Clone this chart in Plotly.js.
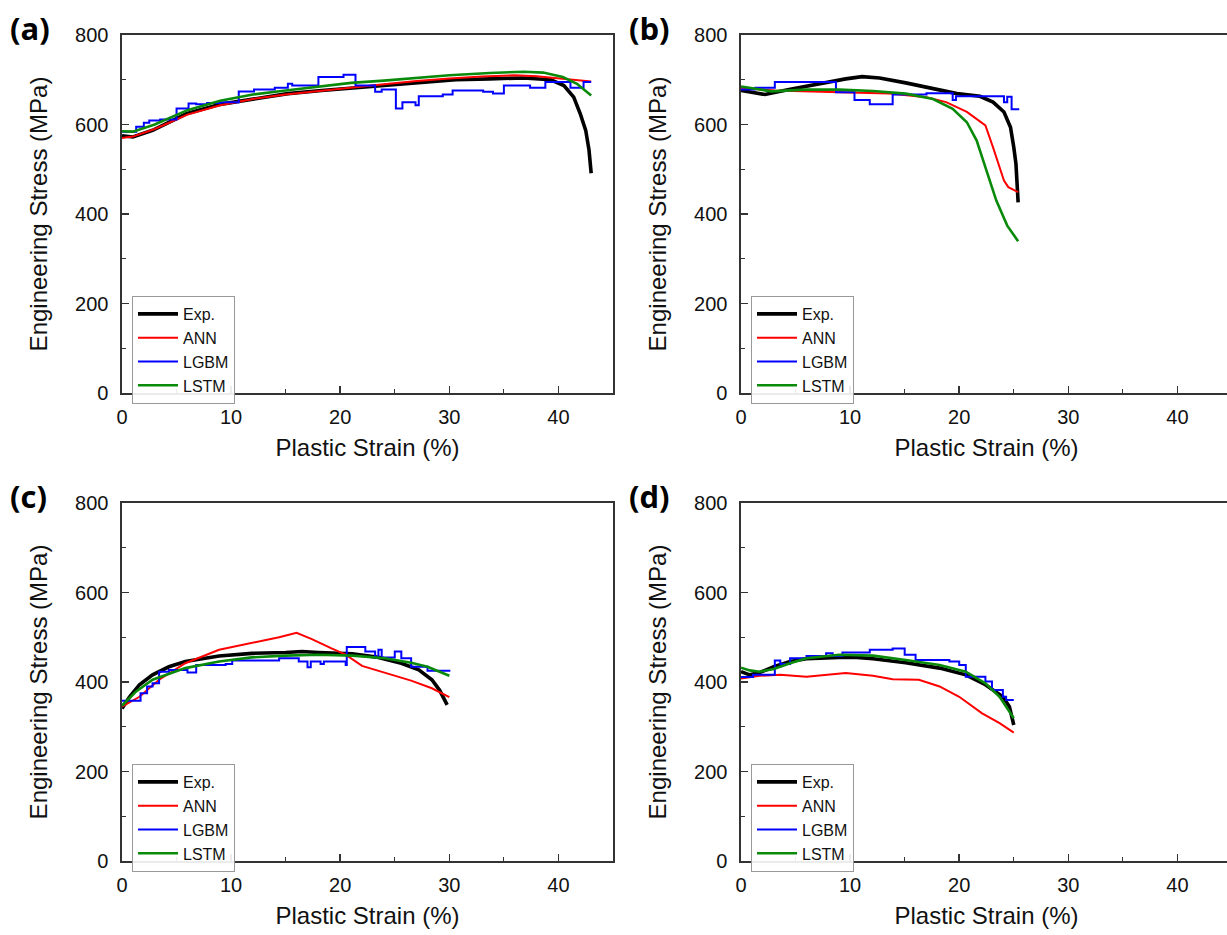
<!DOCTYPE html>
<html>
<head>
<meta charset="utf-8">
<script src="https://cdn.plot.ly/plotly-3.0.1.min.js"></script>
<style>
html,body{margin:0;padding:0;overflow:hidden;background:#fff;}
#chart{width:1240px;height:935px;}
</style>
</head>
<body>
<div id="chart"></div>
<script>
// ---------- data (Plastic strain %, Engineering stress MPa) ----------
const seriesNames = ['Exp.', 'ANN', 'LGBM', 'LSTM'];
const panelLabels = ['(a)', '(b)', '(c)', '(d)'];
const xTickVals = [0, 10, 20, 30, 40];
const yTickVals = [0, 200, 400, 600, 800];

// (a)
const aExpX = [0,1,2.8,5.9,9,12.1,15.2,18.3,21.4,24.4,27.5,30.6,33.7,36.8,39.3,40.5,41.4,42,42.5,42.8,43];
const aExpY = [575,572,587,624,645,658,669,676,682,689,695,700,702,704,700,687,661,624,587,543,491];
const aAnnX = [0,1,3,6,9,12,15,18,21,24,27,30,33,36,38,40,42,43];
const aAnnY = [570,573,590,622,643,657,667,675,683,690,697,703,707,710,708,703,698,696];
const aLgbmX = [0,1.3,2.0,2.5,3.5,5.0,6.1,6.8,7.8,9.0,10.7,12.1,14.0,15.2,15.6,18.0,20.3,21.4,23.2,23.8,25.1,25.7,26.9,27.2,29.4,30.3,33.1,34.0,35.0,37.4,38.8,41.1,42.3,43.0];
const aLgbmY = [584,595,604,609,611,636,647,645,648,650,674,678,682,691,687,706,711,687,673,678,636,650,643,663,667,676,673,669,687,682,695,682,695,695];
const aLstmX = [0,1,3,6,9,12,15,18,21,24,27,30,33.7,36.8,38.6,40.4,41.7,43];
const aLstmY = [585,584,600,632,653,667,676,685,693,698,704,710,715,718,716,706,691,665];

// (b)
const bExpX = [0,2.2,4.4,7.4,9.6,11.1,12.7,15.1,17.6,19.8,21.9,23.1,24.1,24.7,25.0,25.2,25.4];
const bExpY = [676,667,678,693,702,707,704,693,680,669,663,650,628,594,549,512,426];
const bAnnX = [0,3.1,9,13.6,17,18.8,20.7,22.4,23.1,24.1,24.5,25.4];
const bAnnY = [682,676,672,669,661,650,628,598,549,475,460,449];
const bLgbmX = [0,1.3,3.1,8.7,10.4,11.8,13.9,17.0,19.4,19.7,24.1,24.4,24.8,25.5];
const bLgbmY = [678,682,695,672,655,645,667,670,655,663,650,662,634,634];
const bLstmX = [0,2.8,5.9,9,12.1,15.1,17.6,19.4,20.7,21.6,22.5,23.4,24.4,25.4];
const bLstmY = [685,674,678,678,675,669,657,635,605,564,497,430,374,339];

// (c)
const cExpX = [0,0.7,1.6,2.8,4.3,5.8,8.9,11.9,15,16.5,18,21.1,23.5,25.6,27.2,28.4,29.1,29.8];
const cExpY = [341,367,394,416,434,446,458,464,466,468,466,463,455,442,427,405,382,349];
const cAnnX = [0,1.6,3.4,5.8,8.9,11.9,14.4,16,17.4,19.2,20.5,22,24.1,26.5,28.4,30];
const cAnnY = [345,367,405,442,472,487,500,510,496,475,461,436,420,403,386,366];
const cLgbmX = [0,1.7,2.3,2.8,3.4,4.3,6.0,6.8,9.5,10.1,14.4,16.2,17.0,17.3,18.2,18.5,20.5,20.6,22.3,23.2,23.5,23.8,25.0,25.6,26.5,28.0,30.0];
const cLgbmY = [358,375,390,397,423,427,421,438,440,448,453,446,433,446,440,446,438,478,468,455,472,455,468,453,434,425,423];
const cLstmX = [0,1.3,2.8,5.8,8.9,11.9,15,18,21.1,24.1,26.5,28,30];
const cLstmY = [347,379,405,431,446,455,459,461,459,453,443,434,414];

// (d)
const dExpX = [0,0.8,1.7,3,4.5,6,9,10.6,12.1,15.1,18.2,20.6,22.4,24,24.6,25];
const dExpY = [423,416,421,434,446,452,455,455,452,443,431,416,394,367,345,304];
const dAnnX = [0,1.7,3.6,6,9.6,12.1,13.9,16.3,18.2,20,22.1,23.7,25];
const dAnnY = [408,414,416,412,420,414,406,405,390,367,330,308,287];
const dLgbmX = [0,1.1,3.1,3.6,4.5,6,7.8,8.4,9.3,11.8,13.9,15,16,19.1,20,20.6,22.4,23,24,24.3,25];
const dLgbmY = [411,416,448,440,453,458,464,458,466,472,475,461,449,446,438,412,401,382,367,360,360];
const dLstmX = [0,0.8,1.7,3,4.5,6,9,12.1,15.1,18.2,20.6,22.4,23.7,25];
const dLstmY = [432,426,423,429,442,453,461,459,449,438,423,397,367,319];

// ---------- figure ----------
const W = 1240, H = 935;
const FONT = 'Liberation Sans, Arial, sans-serif';
const panels = [
  {ax: '', lg: 'legend',  x0: 122, y0: 35,  data: [[aExpX,aExpY],[aAnnX,aAnnY],[aLgbmX,aLgbmY],[aLstmX,aLstmY]]},
  {ax: '2', lg: 'legend2', x0: 741, y0: 35,  data: [[bExpX,bExpY],[bAnnX,bAnnY],[bLgbmX,bLgbmY],[bLstmX,bLstmY]]},
  {ax: '3', lg: 'legend3', x0: 122, y0: 503, data: [[cExpX,cExpY],[cAnnX,cAnnY],[cLgbmX,cLgbmY],[cLstmX,cLstmY]]},
  {ax: '4', lg: 'legend4', x0: 741, y0: 503, data: [[dExpX,dExpY],[dAnnX,dAnnY],[dLgbmX,dLgbmY],[dLstmX,dLstmY]]}
];
const pw = 491, ph = 358;
const styles = [
  {color: '#000000', width: 3.6, shape: 'linear'},
  {color: '#ff0000', width: 2, shape: 'linear'},
  {color: '#0000ff', width: 2, shape: 'hv'},
  {color: '#0a8a0a', width: 2.6, shape: 'linear'}
];

const traces = [];
const layout = {
  width: W, height: H,
  margin: {l: 0, r: 0, t: 0, b: 0},
  paper_bgcolor: '#ffffff', plot_bgcolor: '#ffffff',
  font: {family: FONT, color: '#111'},
  showlegend: true,
  annotations: []
};

panels.forEach((p, i) => {
  p.data.forEach((d, k) => {
    traces.push({
      type: 'scatter', mode: 'lines',
      x: d[0], y: d[1],
      name: seriesNames[k],
      xaxis: 'x' + p.ax, yaxis: 'y' + p.ax,
      legend: p.lg,
      line: {color: styles[k].color, width: styles[k].width, shape: styles[k].shape},
      hoverinfo: 'skip'
    });
  });
  const xd = [p.x0 / W, (p.x0 + pw) / W];
  const yd = [1 - (p.y0 + ph) / H, 1 - p.y0 / H];
  layout['xaxis' + p.ax] = {
    domain: xd, range: [0, 45], anchor: 'y' + p.ax,
    tickmode: 'array', tickvals: xTickVals,
    ticks: 'inside', ticklen: 7, tickwidth: 1.5, tickcolor: '#333',
    minor: {dtick: 5, tick0: 0, ticks: 'inside', ticklen: 4, tickwidth: 1.2, tickcolor: '#333', showgrid: false},
    showline: true, linecolor: '#333', linewidth: 1.6, mirror: true,
    showgrid: false, zeroline: false, automargin: false,
    tickfont: {family: FONT, size: 20, color: '#111'},
    ticklabelstandoff: 5,
    title: {text: 'Plastic Strain (%)', font: {family: FONT, size: 24, color: '#111'}, standoff: 12}
  };
  layout['yaxis' + p.ax] = {
    domain: yd, range: [0, 800], anchor: 'x' + p.ax,
    tickmode: 'array', tickvals: yTickVals,
    ticks: 'inside', ticklen: 7, tickwidth: 1.5, tickcolor: '#333',
    minor: {dtick: 100, tick0: 0, ticks: 'inside', ticklen: 4, tickwidth: 1.2, tickcolor: '#333', showgrid: false},
    showline: true, linecolor: '#333', linewidth: 1.6, mirror: true,
    showgrid: false, zeroline: false, automargin: false,
    tickfont: {family: FONT, size: 20, color: '#111'},
    ticklabelstandoff: 8,
    title: {text: 'Engineering Stress (MPa)', font: {family: FONT, size: 24, color: '#111'}, standoff: 20}
  };
  layout[p.lg] = {
    x: (p.x0 + 10) / W, y: 1 - (p.y0 + 261) / H,
    xanchor: 'left', yanchor: 'top',
    xref: 'paper', yref: 'paper',
    bgcolor: 'rgba(255,255,255,0.9)', bordercolor: '#999', borderwidth: 1,
    font: {family: FONT, size: 16, color: '#111'},
    tracegroupgap: 0, itemwidth: 40, traceorder: 'normal'
  };
  layout.annotations.push({
    text: '<b>' + panelLabels[i] + '</b>',
    xref: 'paper', yref: 'paper',
    x: (p.x0 - 114) / W, y: 1 - (p.y0 - 7) / H,
    xanchor: 'left', yanchor: 'middle', showarrow: false,
    font: {family: 'Open Sans, Noto Sans, sans-serif', size: 31, color: '#000'}
  });
});

Plotly.newPlot('chart', traces, layout, {displayModeBar: false, staticPlot: true});
</script>
</body>
</html>
